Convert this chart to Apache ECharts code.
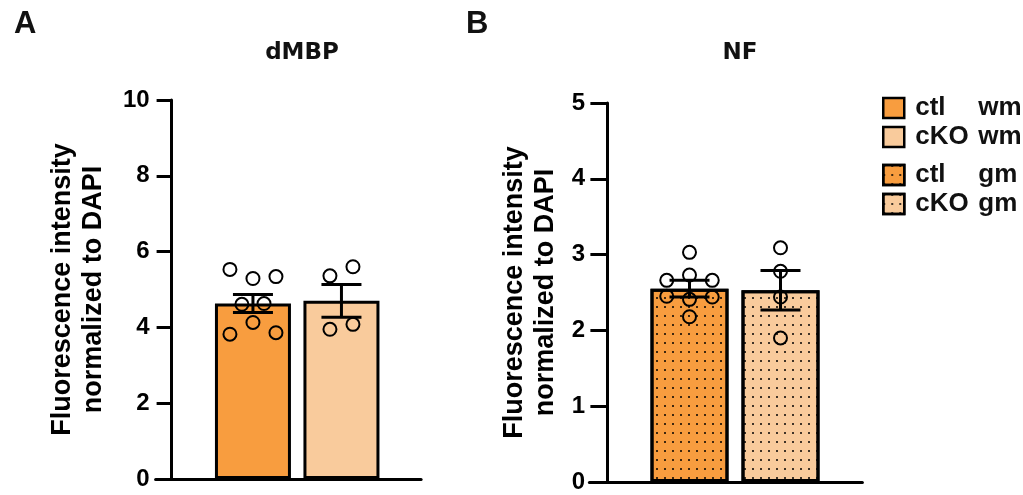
<!DOCTYPE html>
<html>
<head>
<meta charset="utf-8">
<script src="https://cdn.jsdelivr.net/npm/echarts@6/dist/echarts.min.js"></script>
<style>
html, body { margin: 0; padding: 0; background: #fff; }
#chart { width: 1023px; height: 495px; }
</style>
</head>
<body>
<div id="chart"></div>
<script>
// groups and legend entries
var groups = ['ctl', 'cKO']
var seriesNames = ['ctl wm', 'cKO wm', 'ctl gm', 'cKO gm']
var groupX = [1, 2]

// A: dMBP (wm)
var dmbpMean = [4.63, 4.70]
var dmbpSem = [0.24, 0.43]
var dmbpCtl = [5.53, 5.29, 5.34, 4.61, 4.63, 4.13, 3.82, 3.86]
var dmbpCtlJitter = [-0.26, 0, 0.26, -0.125, 0.125, 0, -0.26, 0.26]
var dmbpKo = [5.36, 5.6, 3.95, 4.08]
var dmbpKoJitter = [-0.13, 0.13, -0.13, 0.13]

// B: NF (gm)
var nfMean = [2.55, 2.53]
var nfSem = [0.11, 0.26]
var nfCtl = [3.03, 2.66, 2.73, 2.66, 2.45, 2.41, 2.44, 2.18]
var nfCtlJitter = [0, -0.25, 0, 0.25, -0.25, 0, 0.25, 0]
var nfKo = [3.09, 2.78, 2.44, 1.90]
var nfKoJitter = [0, 0, 0, 0]

// y ticks
var yTicksA = [0, 2, 4, 6, 8, 10]
var yTicksB = [0, 1, 2, 3, 4, 5]

var font = '"Liberation Sans", Arial, sans-serif'
var ctlColor = '#F89D3F'
var koColor = '#F9CB9C'
var dots = {
  symbol: 'rect',
  symbolSize: 1,
  color: 'rgba(0, 0, 0, 0.75)',
  dashArrayX: [2, 6],
  dashArrayY: [2, 6.5],
  rotation: 0
}

function xAxis (grid) {
  return {
    type: 'value',
    gridIndex: grid,
    min: -0.1,
    max: 2.9,
    axisLine: { show: true, onZero: false, lineStyle: { color: '#000', width: 3 } },
    axisTick: { show: false },
    axisLabel: { show: false },
    splitLine: { show: false }
  }
}

function yAxis (grid, ticks, offset, nameGap) {
  return {
    type: 'value',
    gridIndex: grid,
    min: ticks[0],
    max: ticks[ticks.length - 1],
    interval: ticks[1] - ticks[0],
    offset: offset,
    axisLine: { show: true, onZero: false, lineStyle: { color: '#000', width: 3 } },
    axisTick: { show: true, length: -offset - 1, lineStyle: { color: '#000', width: 3 } },
    axisLabel: { margin: 22, fontSize: 24, fontWeight: 'bold', color: '#000', fontFamily: font },
    splitLine: { show: false },
    name: 'Fluorescence intensity\nnormalized to DAPI',
    nameLocation: 'middle',
    nameGap: nameGap,
    nameTextStyle: { fontSize: 27, fontWeight: 'bold', color: '#000', fontFamily: font, lineHeight: 31 }
  }
}

function bar (name, grid, x, v, color, width, decal) {
  return {
    name: name,
    type: 'bar',
    xAxisIndex: grid,
    yAxisIndex: grid,
    barWidth: width,
    barGap: '-100%',
    data: [[x, v]],
    itemStyle: { color: color, borderColor: '#000', borderWidth: 3, decal: decal },
    z: 2
  }
}

function points (grid, x, vals, jitter) {
  return {
    type: 'scatter',
    xAxisIndex: grid,
    yAxisIndex: grid,
    symbol: 'circle',
    symbolSize: 13,
    data: vals.map(function (v, i) { return [x + jitter[i], v] }),
    itemStyle: { color: 'rgba(0,0,0,0)', borderColor: '#000', borderWidth: 2, opacity: 1 },
    z: 4
  }
}

function errorBars (grid, mean, sem) {
  return {
    type: 'custom',
    xAxisIndex: grid,
    yAxisIndex: grid,
    z: 5,
    data: groupX.map(function (x, i) { return [x, mean[i] - sem[i], mean[i] + sem[i]] }),
    renderItem: function (params, api) {
      var lo = api.coord([api.value(0), api.value(1)])
      var hi = api.coord([api.value(0), api.value(2)])
      var half = 20
      var style = { stroke: '#000', lineWidth: 3 }
      return {
        type: 'group',
        children: [
          { type: 'line', shape: { x1: hi[0], y1: hi[1], x2: lo[0], y2: lo[1] }, style: style },
          { type: 'line', shape: { x1: hi[0] - half, y1: hi[1], x2: hi[0] + half, y2: hi[1] }, style: style },
          { type: 'line', shape: { x1: lo[0] - half, y1: lo[1], x2: lo[0] + half, y2: lo[1] }, style: style }
        ]
      }
    }
  }
}

function legend (names, top) {
  return {
    data: names,
    orient: 'vertical',
    left: 882,
    top: top,
    padding: 0,
    icon: 'rect',
    itemWidth: 21,
    itemHeight: 20,
    itemGap: 3,
    selectedMode: false,
    itemStyle: { borderWidth: 2.5 },
    formatter: function (name) {
      var p = name.split(' ')
      return '{a|' + p[0] + '}{b|' + p[1] + '}'
    },
    textStyle: {
      color: '#111',
      fontSize: 26,
      fontWeight: 'bold',
      fontFamily: font,
      lineHeight: 20,
      rich: {
        a: { width: 63, padding: [0, 0, 0, 6], fontSize: 26, fontWeight: 'bold', fontFamily: font, color: '#111', lineHeight: 20 },
        b: { fontSize: 26, fontWeight: 'bold', fontFamily: font, color: '#111', lineHeight: 20 }
      }
    }
  }
}

var chart = echarts.init(document.getElementById('chart'))
chart.setOption({
  animation: false,
  backgroundColor: '#fff',
  title: [
    { text: 'A', left: 9, top: 4, textStyle: { fontSize: 31, fontWeight: 'bold', color: '#111', fontFamily: font } },
    { text: 'B', left: 461, top: 4, textStyle: { fontSize: 31, fontWeight: 'bold', color: '#111', fontFamily: font } },
    { text: 'dMBP', left: 297, textAlign: 'center', top: 37, textStyle: { fontSize: 23, fontWeight: 'bold', color: '#111', fontFamily: '"DejaVu Sans", sans-serif' } },
    { text: 'NF', left: 735, textAlign: 'center', top: 37, textStyle: { fontSize: 23, fontWeight: 'bold', color: '#111', fontFamily: '"DejaVu Sans", sans-serif' } }
  ],
  legend: [legend(seriesNames.slice(0, 2), 95), legend(seriesNames.slice(2, 4), 162)],
  grid: [
    { left: 155.6, top: 100, width: 265.5, height: 379 },
    { left: 589.4, top: 103, width: 273, height: 379 }
  ],
  xAxis: [xAxis(0), xAxis(1)],
  yAxis: [yAxis(0, yTicksA, -16, 63), yAxis(1, yTicksB, -17.6, 46)],
  series: [
    bar(seriesNames[0], 0, groupX[0], dmbpMean[0], ctlColor, 76, null),
    bar(seriesNames[1], 0, groupX[1], dmbpMean[1], koColor, 76, null),
    bar(seriesNames[2], 1, groupX[0], nfMean[0], ctlColor, 78, dots),
    bar(seriesNames[3], 1, groupX[1], nfMean[1], koColor, 78, dots),
    points(0, groupX[0], dmbpCtl, dmbpCtlJitter),
    points(0, groupX[1], dmbpKo, dmbpKoJitter),
    points(1, groupX[0], nfCtl, nfCtlJitter),
    points(1, groupX[1], nfKo, nfKoJitter),
    errorBars(0, dmbpMean, dmbpSem),
    errorBars(1, nfMean, nfSem)
  ]
})
</script>
</body>
</html>
